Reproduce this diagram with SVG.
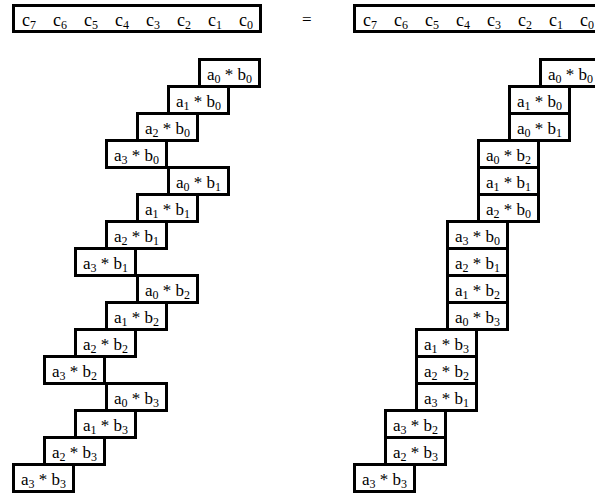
<svg xmlns="http://www.w3.org/2000/svg" width="595" height="493" viewBox="0 0 595 493" font-family="'Liberation Serif', 'Times New Roman', 'DejaVu Serif', serif">
<style>
rect{fill:#fff;stroke:#000;stroke-width:3}
text{font-family:'Liberation Serif','Times New Roman','DejaVu Serif',serif;font-size:17px;fill:#000}
.m{text-anchor:middle}
.s{font-size:12px}
.c{font-size:18px}
</style>
<rect x="0" y="0" width="595" height="493" style="stroke:none"/>
<g id="c-left"><rect x="13.5" y="5.5" width="247" height="26"/>
<text class="c" y="26"><tspan x="22">c<tspan class="s" dy="3">7</tspan></tspan><tspan x="53" dy="-3">c<tspan class="s" dy="3">6</tspan></tspan><tspan x="84" dy="-3">c<tspan class="s" dy="3">5</tspan></tspan><tspan x="115" dy="-3">c<tspan class="s" dy="3">4</tspan></tspan><tspan x="146" dy="-3">c<tspan class="s" dy="3">3</tspan></tspan><tspan x="177" dy="-3">c<tspan class="s" dy="3">2</tspan></tspan><tspan x="208" dy="-3">c<tspan class="s" dy="3">1</tspan></tspan><tspan x="239" dy="-3">c<tspan class="s" dy="3">0</tspan></tspan></text></g>
<g id="equals"><text x="302" y="25">=</text></g>
<g id="c-right"><rect x="354.5" y="5.5" width="247" height="26"/>
<text class="c" y="26"><tspan x="363">c<tspan class="s" dy="3">7</tspan></tspan><tspan x="394" dy="-3">c<tspan class="s" dy="3">6</tspan></tspan><tspan x="425" dy="-3">c<tspan class="s" dy="3">5</tspan></tspan><tspan x="456" dy="-3">c<tspan class="s" dy="3">4</tspan></tspan><tspan x="487" dy="-3">c<tspan class="s" dy="3">3</tspan></tspan><tspan x="518" dy="-3">c<tspan class="s" dy="3">2</tspan></tspan><tspan x="549" dy="-3">c<tspan class="s" dy="3">1</tspan></tspan><tspan x="580" dy="-3">c<tspan class="s" dy="3">0</tspan></tspan></text></g>
<g id="connectors"/>
<g id="L00"><rect x="199.5" y="59.5" width="60" height="27"/><text class="m" x="229.5" y="80">a<tspan class="s" dy="3">0</tspan><tspan dy="-3"> * b</tspan><tspan class="s" dy="3">0</tspan></text></g>
<g id="L10"><rect x="168.5" y="86.5" width="60" height="27"/><text class="m" x="198.5" y="107">a<tspan class="s" dy="3">1</tspan><tspan dy="-3"> * b</tspan><tspan class="s" dy="3">0</tspan></text></g>
<g id="L20"><rect x="137.5" y="113.5" width="60" height="27"/><text class="m" x="167.5" y="134">a<tspan class="s" dy="3">2</tspan><tspan dy="-3"> * b</tspan><tspan class="s" dy="3">0</tspan></text></g>
<g id="L30"><rect x="106.5" y="140.5" width="60" height="27"/><text class="m" x="136.5" y="161">a<tspan class="s" dy="3">3</tspan><tspan dy="-3"> * b</tspan><tspan class="s" dy="3">0</tspan></text></g>
<g id="L01"><rect x="168.5" y="167.5" width="60" height="27"/><text class="m" x="198.5" y="188">a<tspan class="s" dy="3">0</tspan><tspan dy="-3"> * b</tspan><tspan class="s" dy="3">1</tspan></text></g>
<g id="L11"><rect x="137.5" y="194.5" width="60" height="27"/><text class="m" x="167.5" y="215">a<tspan class="s" dy="3">1</tspan><tspan dy="-3"> * b</tspan><tspan class="s" dy="3">1</tspan></text></g>
<g id="L21"><rect x="106.5" y="221.5" width="60" height="27"/><text class="m" x="136.5" y="242">a<tspan class="s" dy="3">2</tspan><tspan dy="-3"> * b</tspan><tspan class="s" dy="3">1</tspan></text></g>
<g id="L31"><rect x="75.5" y="248.5" width="60" height="27"/><text class="m" x="105.5" y="269">a<tspan class="s" dy="3">3</tspan><tspan dy="-3"> * b</tspan><tspan class="s" dy="3">1</tspan></text></g>
<g id="L02"><rect x="137.5" y="275.5" width="60" height="27"/><text class="m" x="167.5" y="296">a<tspan class="s" dy="3">0</tspan><tspan dy="-3"> * b</tspan><tspan class="s" dy="3">2</tspan></text></g>
<g id="L12"><rect x="106.5" y="302.5" width="60" height="27"/><text class="m" x="136.5" y="323">a<tspan class="s" dy="3">1</tspan><tspan dy="-3"> * b</tspan><tspan class="s" dy="3">2</tspan></text></g>
<g id="L22"><rect x="75.5" y="329.5" width="60" height="27"/><text class="m" x="105.5" y="350">a<tspan class="s" dy="3">2</tspan><tspan dy="-3"> * b</tspan><tspan class="s" dy="3">2</tspan></text></g>
<g id="L32"><rect x="44.5" y="356.5" width="60" height="27"/><text class="m" x="74.5" y="377">a<tspan class="s" dy="3">3</tspan><tspan dy="-3"> * b</tspan><tspan class="s" dy="3">2</tspan></text></g>
<g id="L03"><rect x="106.5" y="383.5" width="60" height="27"/><text class="m" x="136.5" y="404">a<tspan class="s" dy="3">0</tspan><tspan dy="-3"> * b</tspan><tspan class="s" dy="3">3</tspan></text></g>
<g id="L13"><rect x="75.5" y="410.5" width="60" height="27"/><text class="m" x="105.5" y="431">a<tspan class="s" dy="3">1</tspan><tspan dy="-3"> * b</tspan><tspan class="s" dy="3">3</tspan></text></g>
<g id="L23"><rect x="44.5" y="437.5" width="60" height="27"/><text class="m" x="74.5" y="458">a<tspan class="s" dy="3">2</tspan><tspan dy="-3"> * b</tspan><tspan class="s" dy="3">3</tspan></text></g>
<g id="L33"><rect x="13.5" y="464.5" width="60" height="27"/><text class="m" x="43.5" y="485">a<tspan class="s" dy="3">3</tspan><tspan dy="-3"> * b</tspan><tspan class="s" dy="3">3</tspan></text></g>
<g id="R00"><rect x="540.5" y="59.5" width="60" height="27"/><text class="m" x="570.5" y="80">a<tspan class="s" dy="3">0</tspan><tspan dy="-3"> * b</tspan><tspan class="s" dy="3">0</tspan></text></g>
<g id="R10"><rect x="509.5" y="86.5" width="60" height="27"/><text class="m" x="539.5" y="107">a<tspan class="s" dy="3">1</tspan><tspan dy="-3"> * b</tspan><tspan class="s" dy="3">0</tspan></text></g>
<g id="R01"><rect x="509.5" y="113.5" width="60" height="27"/><text class="m" x="539.5" y="134">a<tspan class="s" dy="3">0</tspan><tspan dy="-3"> * b</tspan><tspan class="s" dy="3">1</tspan></text></g>
<g id="R02"><rect x="478.5" y="140.5" width="60" height="27"/><text class="m" x="508.5" y="161">a<tspan class="s" dy="3">0</tspan><tspan dy="-3"> * b</tspan><tspan class="s" dy="3">2</tspan></text></g>
<g id="R11"><rect x="478.5" y="167.5" width="60" height="27"/><text class="m" x="508.5" y="188">a<tspan class="s" dy="3">1</tspan><tspan dy="-3"> * b</tspan><tspan class="s" dy="3">1</tspan></text></g>
<g id="R20"><rect x="478.5" y="194.5" width="60" height="27"/><text class="m" x="508.5" y="215">a<tspan class="s" dy="3">2</tspan><tspan dy="-3"> * b</tspan><tspan class="s" dy="3">0</tspan></text></g>
<g id="R30"><rect x="447.5" y="221.5" width="60" height="27"/><text class="m" x="477.5" y="242">a<tspan class="s" dy="3">3</tspan><tspan dy="-3"> * b</tspan><tspan class="s" dy="3">0</tspan></text></g>
<g id="R21"><rect x="447.5" y="248.5" width="60" height="27"/><text class="m" x="477.5" y="269">a<tspan class="s" dy="3">2</tspan><tspan dy="-3"> * b</tspan><tspan class="s" dy="3">1</tspan></text></g>
<g id="R12"><rect x="447.5" y="275.5" width="60" height="27"/><text class="m" x="477.5" y="296">a<tspan class="s" dy="3">1</tspan><tspan dy="-3"> * b</tspan><tspan class="s" dy="3">2</tspan></text></g>
<g id="R03"><rect x="447.5" y="302.5" width="60" height="27"/><text class="m" x="477.5" y="323">a<tspan class="s" dy="3">0</tspan><tspan dy="-3"> * b</tspan><tspan class="s" dy="3">3</tspan></text></g>
<g id="R13"><rect x="416.5" y="329.5" width="60" height="27"/><text class="m" x="446.5" y="350">a<tspan class="s" dy="3">1</tspan><tspan dy="-3"> * b</tspan><tspan class="s" dy="3">3</tspan></text></g>
<g id="R22"><rect x="416.5" y="356.5" width="60" height="27"/><text class="m" x="446.5" y="377">a<tspan class="s" dy="3">2</tspan><tspan dy="-3"> * b</tspan><tspan class="s" dy="3">2</tspan></text></g>
<g id="R31"><rect x="416.5" y="383.5" width="60" height="27"/><text class="m" x="446.5" y="404">a<tspan class="s" dy="3">3</tspan><tspan dy="-3"> * b</tspan><tspan class="s" dy="3">1</tspan></text></g>
<g id="R32"><rect x="385.5" y="410.5" width="60" height="27"/><text class="m" x="415.5" y="431">a<tspan class="s" dy="3">3</tspan><tspan dy="-3"> * b</tspan><tspan class="s" dy="3">2</tspan></text></g>
<g id="R23"><rect x="385.5" y="437.5" width="60" height="27"/><text class="m" x="415.5" y="458">a<tspan class="s" dy="3">2</tspan><tspan dy="-3"> * b</tspan><tspan class="s" dy="3">3</tspan></text></g>
<g id="R33"><rect x="354.5" y="464.5" width="60" height="27"/><text class="m" x="384.5" y="485">a<tspan class="s" dy="3">3</tspan><tspan dy="-3"> * b</tspan><tspan class="s" dy="3">3</tspan></text></g>
</svg>
